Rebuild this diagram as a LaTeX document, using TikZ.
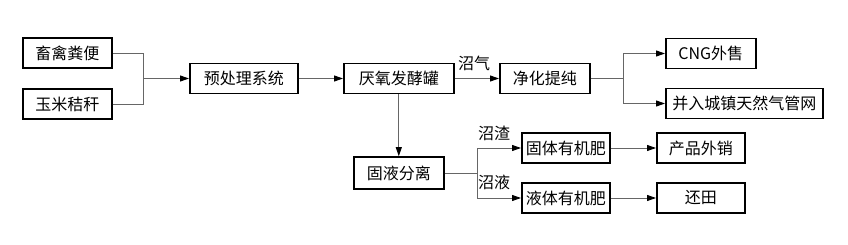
\documentclass[tikz,border=0pt]{standalone}
\usepackage{fontspec}
\newfontfamily\cjk{Noto Sans CJK SC}
\usetikzlibrary{positioning,arrows.meta}
\tikzset{
stagebox/.style={draw=black,line width=1.6pt,minimum height=30pt,inner sep=0pt,anchor=west,font=\cjk\fontsize{16}{19}\selectfont},
link/.style={draw=black!60,line width=0.9pt},
flowarrow/.style={link,-{Triangle[length=9pt,width=6pt,black]}},
tag/.style={inner sep=0pt,font=\cjk\fontsize{16}{19}\selectfont}
}
\begin{document}
\begin{tikzpicture}[x=1pt,y=-1pt]
\useasboundingbox (0,0) rectangle (848,245);
% raw materials
\node[stagebox,minimum width=89pt] (manure) at (22,53) {畜禽粪便};
\node[stagebox,minimum width=89pt] (straw) at (22,104) {玉米秸秆};
\node[stagebox,minimum width=108pt] (pre) at (189,78.5) {预处理系统};
\node[stagebox,minimum width=110pt] (tank) at (343,78.5) {厌氧发酵罐};
\node[stagebox,minimum width=90pt] (purify) at (499,78.5) {净化提纯};
\node[stagebox,minimum width=90pt] (cng) at (665,53.5) {CNG外售};
\node[stagebox,minimum width=157pt] (grid) at (665,103.5) {并入城镇天然气管网};
% digestate branch
\node[stagebox,minimum width=90pt,minimum height=32pt] (sep) at (353,173) {固液分离};
\node[stagebox,minimum width=88pt] (solid) at (521,148) {固体有机肥};
\node[stagebox,minimum width=88pt] (sale) at (656,148) {产品外销};
\node[stagebox,minimum width=88pt] (liquid) at (521,198) {液体有机肥};
\node[stagebox,minimum width=88pt] (field) at (656,198) {还田};
\coordinate (j1) at (143,78.5);
\coordinate (j2) at (623,78.5);
\coordinate (j3) at (477,173);
\draw[link] (manure.east) -| (j1);
\draw[link] (straw.east) -| (j1);
\draw[flowarrow] (j1) -- (pre.west);
\draw[flowarrow] (pre.east) -- (tank.west);
\draw[flowarrow] (tank.east) -- (purify.west);
\node[tag] (biogas) at (474,63) {沼气};
\draw[link] (purify.east) -- (j2);
\draw[flowarrow] (j2) |- (cng.west);
\draw[flowarrow] (j2) |- (grid.west);
\draw[flowarrow] (tank.south) -- (sep.north);
\draw[link] (sep.east) -- (j3);
\draw[flowarrow] (j3) |- (solid.west);
\draw[flowarrow] (j3) |- (liquid.west);
\node[tag] (residue) at (494,133) {沼渣};
\node[tag] (slurry) at (494,182) {沼液};
\draw[flowarrow] (solid.east) -- (sale.west);
\draw[flowarrow] (liquid.east) -- (field.west);
\end{tikzpicture}
\end{document}
